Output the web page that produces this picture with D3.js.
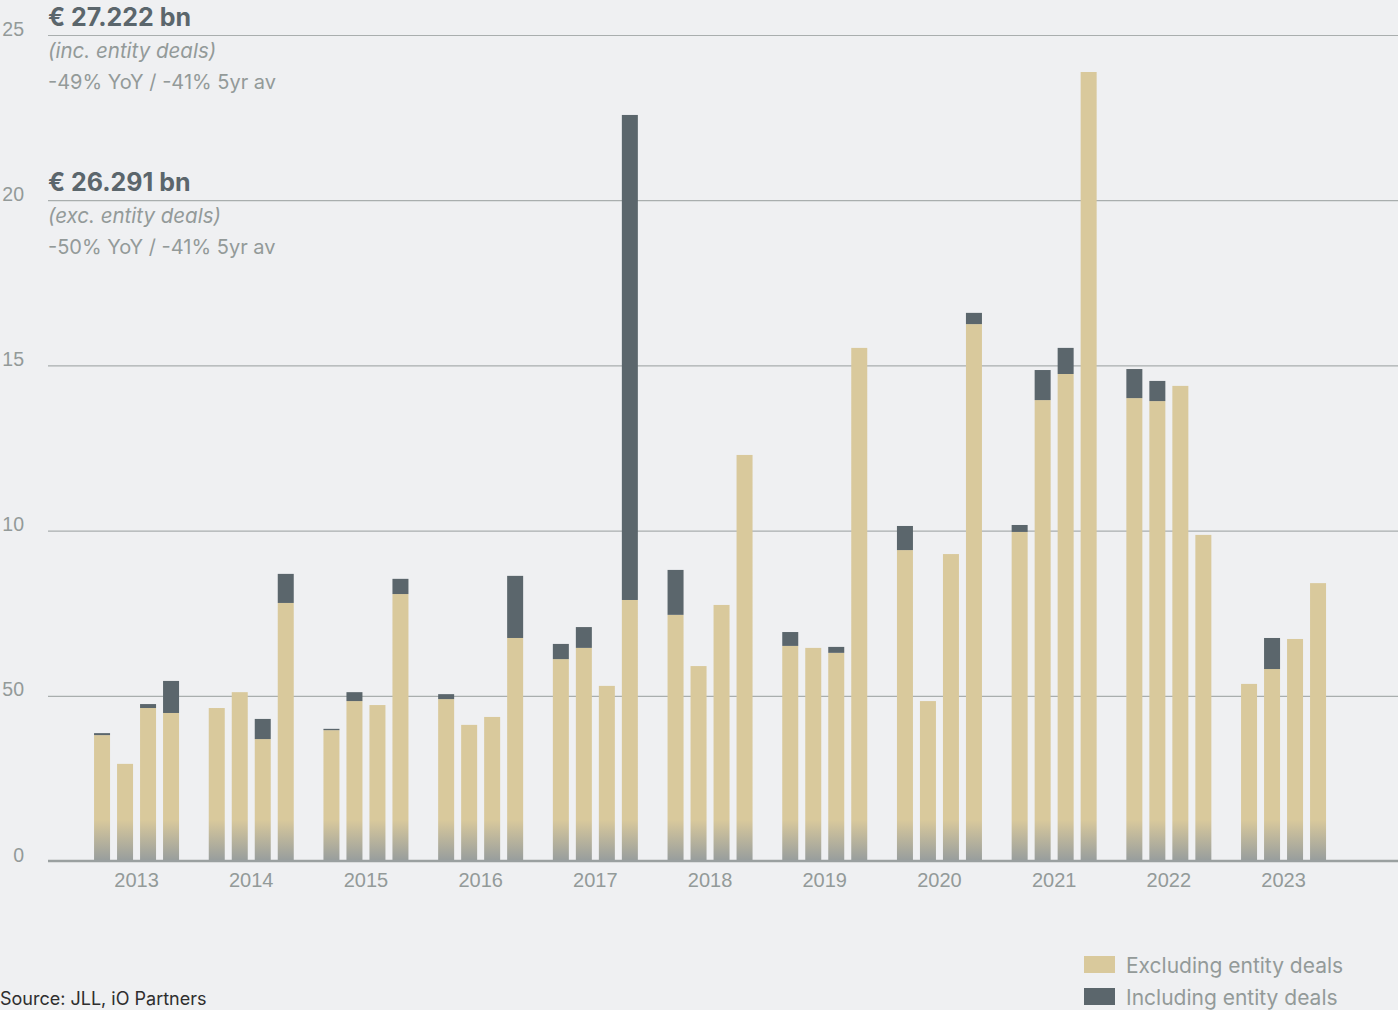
<!DOCTYPE html>
<html>
<head>
<meta charset="utf-8">
<script src="https://cdn.jsdelivr.net/npm/d3@7"></script>
<style>
  html, body { margin: 0; padding: 0; background: #eff0f2; }
  svg { display: block; font-family: Inter, "Noto Sans", sans-serif; }
</style>
</head>
<body>
<svg id="chart" width="1398" height="1010"></svg>
<script>
// Quarterly investment volume, € bn
const years = ["2013","2014","2015","2016","2017","2018","2019","2020","2021","2022","2023"];
const quarters = ["Q1","Q2","Q3","Q4"];

// Excluding entity deals, one row per year, Q1..Q4
const excluding = [
  [3.81, 2.94, 4.63, 4.48],
  [4.63, 5.11, 3.69, 7.81],
  [3.96, 4.84, 4.72, 8.08],
  [4.90, 4.12, 4.36, 6.75],
  [6.11, 6.45, 5.30, 7.90],
  [7.45, 5.90, 7.75, 12.29],
  [6.51, 6.45, 6.30, 15.53],
  [9.41, 4.84, 9.29, 16.25],
  [9.96, 13.95, 14.74, 23.88],
  [14.01, 13.92, 14.38, 9.87],
  [5.36, 5.81, 6.72, 8.41]
];

// Including entity deals (total), one row per year, Q1..Q4
const including = [
  [3.87, 2.94, 4.75, 5.45],
  [4.63, 5.11, 4.30, 8.69],
  [4.00, 5.11, 4.72, 8.54],
  [5.05, 4.12, 4.36, 8.63],
  [6.57, 7.08, 5.30, 22.58],
  [8.81, 5.90, 7.75, 12.29],
  [6.93, 6.45, 6.48, 15.53],
  [10.14, 4.84, 9.29, 16.59],
  [10.17, 14.86, 15.53, 23.88],
  [14.89, 14.53, 14.38, 9.87],
  [5.36, 6.75, 6.72, 8.41]
];

const yTicks = [0, 5, 10, 15, 20, 25];
const yTickLabels = ["0", "50", "10", "15", "20", "25"];

const legendItems = ["Excluding entity deals", "Including entity deals"];

const headlines = [
  { value: 25, title: "€ 27.222 bn", note: "(inc. entity deals)", change: "-49% YoY / -41% 5yr av" },
  { value: 20, title: "€ 26.291 bn", note: "(exc. entity deals)", change: "-50% YoY / -41% 5yr av" }
];

const sourceText = "Source: JLL, iO Partners";

// Palette
const TAN = "#d9c99c";
const DARK = "#5b666c";
const FADE = "#979d9d";
const GRID = "#a9aeae";
const LABEL = "#939a99";

const svg = d3.select("#chart");

const plot = { left: 48, right: 1398, top: 35, bottom: 861 };

const y = d3.scaleLinear().domain([0, 25]).range([plot.bottom, plot.top]);

const xYear = d3.scaleBand().domain(years).range([79.2, 1340.9]).padding(0);
const barStep = 23, barGap = 7;
const groupPad = (xYear.bandwidth() / barStep - (4 - barGap / barStep)) / 2;
const xQuarter = d3.scaleBand().domain(quarters)
  .range([0, xYear.bandwidth()])
  .paddingInner(barGap / barStep)
  .paddingOuter(groupPad);

// Gradient fading the base of every bar into grey
const defs = svg.append("defs");
const grad = defs.append("linearGradient")
  .attr("id", "baseFade")
  .attr("gradientUnits", "userSpaceOnUse")
  .attr("x1", 0).attr("x2", 0)
  .attr("y1", y(1.25)).attr("y2", y(0));
grad.append("stop").attr("offset", "0%").attr("stop-color", TAN);
grad.append("stop").attr("offset", "100%").attr("stop-color", FADE);

// Gridlines and y tick labels
const yAxis = d3.axisLeft(y)
  .tickValues(yTicks)
  .tickSize(-(plot.right - plot.left))
  .tickFormat((d, i) => yTickLabels[i]);

const gy = svg.append("g")
  .attr("transform", `translate(${plot.left},0)`)
  .call(yAxis);
gy.select(".domain").remove();
gy.selectAll(".tick line")
  .attr("stroke", GRID)
  .attr("stroke-width", 1.2);
gy.selectAll(".tick text")
  .attr("x", -24)
  .attr("dy", 0)
  .attr("fill", LABEL)
  .attr("font-size", 19.5)
  .attr("text-anchor", "end");

// Bars
const rows = [];
years.forEach((yr, i) => {
  quarters.forEach((q, j) => {
    rows.push({ year: yr, q, exc: excluding[i][j], inc: including[i][j] });
  });
});

const bars = svg.append("g");

bars.selectAll("rect.exc")
  .data(rows)
  .join("rect")
  .attr("class", "exc")
  .attr("x", d => xYear(d.year) + xQuarter(d.q))
  .attr("width", xQuarter.bandwidth())
  .attr("y", d => y(d.exc))
  .attr("height", d => y(0) - y(d.exc))
  .attr("fill", "url(#baseFade)");

bars.selectAll("rect.inc")
  .data(rows.filter(d => d.inc > d.exc))
  .join("rect")
  .attr("class", "inc")
  .attr("x", d => xYear(d.year) + xQuarter(d.q))
  .attr("width", xQuarter.bandwidth())
  .attr("y", d => y(d.inc))
  .attr("height", d => y(d.exc) - y(d.inc))
  .attr("fill", DARK);

// Baseline
svg.append("line")
  .attr("x1", plot.left).attr("x2", plot.right)
  .attr("y1", y(0)).attr("y2", y(0))
  .attr("stroke", "#9aa0a0")
  .attr("stroke-width", 2.5);

// Year labels
const xAxis = d3.axisBottom(xYear).tickSize(0).tickPadding(0);
const gx = svg.append("g")
  .attr("transform", `translate(0,${y(0)})`)
  .call(xAxis);
gx.select(".domain").remove();
gx.selectAll(".tick text")
  .attr("y", 26)
  .attr("dy", 0)
  .attr("fill", LABEL)
  .attr("font-size", 20);

// Headline figures
const heads = svg.append("g");
headlines.forEach(h => {
  const base = y(h.value);
  heads.append("text")
    .attr("x", plot.left).attr("y", base - 9)
    .attr("font-size", 25).attr("font-weight", 700)
    .attr("fill", DARK)
    .text(h.title);
  heads.append("text")
    .attr("x", plot.left).attr("y", base + 23)
    .attr("font-size", 20.5).attr("font-style", "italic")
    .attr("fill", LABEL)
    .text(h.note);
  heads.append("text")
    .attr("x", plot.left).attr("y", base + 54)
    .attr("font-size", 20)
    .attr("fill", LABEL)
    .text(h.change);
});

// Legend
const legend = svg.append("g").attr("transform", "translate(1084,956)");
legendItems.forEach((label, i) => {
  const g = legend.append("g").attr("transform", `translate(0,${i * 32})`);
  g.append("rect").attr("width", 31).attr("height", 17)
    .attr("fill", i === 0 ? TAN : DARK);
  g.append("text").attr("x", 42).attr("y", 17)
    .attr("font-size", 21).attr("fill", LABEL)
    .text(label);
});

// Source note
svg.append("text")
  .attr("x", 0).attr("y", 1005)
  .attr("font-size", 18)
  .attr("fill", "#2e2e2e")
  .text(sourceText);
</script>
</body>
</html>
